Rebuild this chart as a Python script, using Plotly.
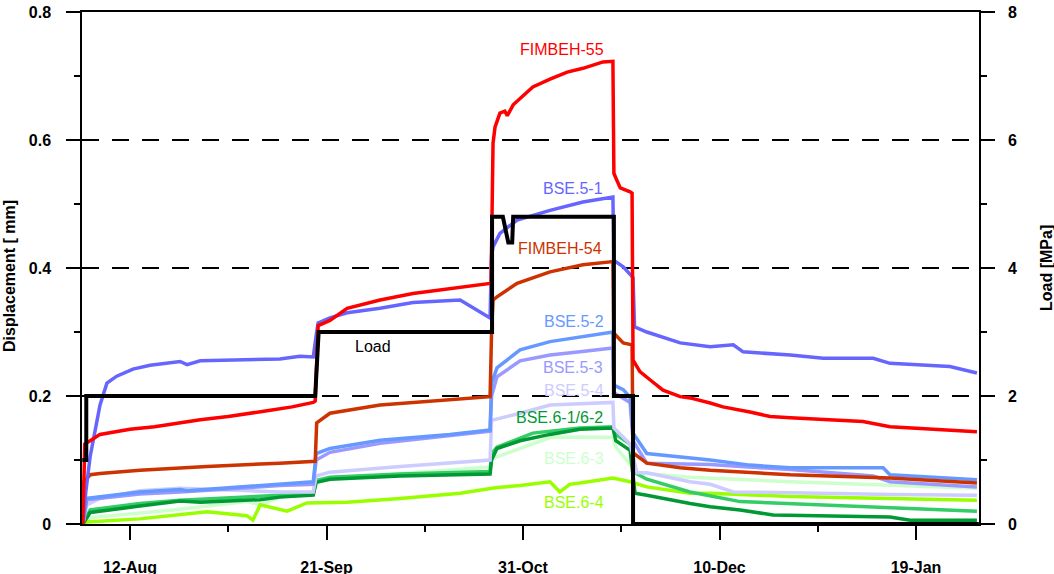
import pandas as pd
import plotly.graph_objects as go

# ---------------- data (days relative to 12-Aug) ----------------
START_DATE = "2007-08-12"

FIMBEH55_DAYS = [-9.6, -9.4, -9.2, -8.1, -6.1, 0.0, 5.0, 14.3, 20.0, 27.9, 33.0, 37.3, 37.7, 38.3, 40.7,
                 44.2, 50.9, 57.6, 65.1, 73.3, 73.5, 73.9, 74.3, 75.3, 76.3, 76.8, 78.0, 79.4, 82.0, 85.5,
                 89.0, 92.2, 96.3, 98.3, 98.5, 99.1, 99.8, 101.8, 102.2, 102.4, 103.8, 105.9, 108.5, 112.0,
                 114.0, 118.1, 120.7, 126.2, 130.3, 134.4, 141.1, 149.2, 154.7, 160.0, 166.9, 172.4]
FIMBEH55_MM = [0.0, 0.10, 0.125, 0.13, 0.14, 0.148, 0.152, 0.163, 0.168, 0.177, 0.183, 0.19, 0.192, 0.31, 0.318,
               0.337, 0.35, 0.36, 0.368, 0.376, 0.378, 0.595, 0.62, 0.642, 0.645, 0.638, 0.655, 0.665, 0.683, 0.695,
               0.706, 0.712, 0.722, 0.723, 0.548, 0.537, 0.525, 0.519, 0.517, 0.256, 0.238, 0.225, 0.209, 0.199,
               0.197, 0.189, 0.183, 0.175, 0.168, 0.166, 0.163, 0.16, 0.152, 0.15, 0.147, 0.144]

BSE51_DAYS = [-9.6, -9.0, -8.1, -6.1, -4.7, -2.7, 0.6, 4.1, 10.2, 11.6, 14.3, 21.0, 30.5, 34.6, 37.3,
              37.9, 38.3, 40.7, 44.2, 50.9, 57.6, 67.2, 73.3, 73.6, 73.9, 75.3, 78.8, 85.5, 92.2, 98.3,
              98.5, 100.4, 101.8, 102.4, 102.7, 105.2, 112.0, 118.1, 122.8, 124.8, 134.4, 141.1, 151.3,
              154.7, 166.9, 172.4]
BSE51_MM = [0.0, 0.05, 0.106, 0.186, 0.22, 0.231, 0.242, 0.248, 0.254, 0.249, 0.255, 0.256, 0.258, 0.262, 0.261,
            0.295, 0.314, 0.322, 0.33, 0.337, 0.346, 0.35, 0.322, 0.42, 0.433, 0.454, 0.475, 0.49, 0.503, 0.511,
            0.412, 0.402, 0.39, 0.385, 0.308, 0.30, 0.283, 0.277, 0.28, 0.269, 0.264, 0.259, 0.259,
            0.251, 0.246, 0.236]

FIMBEH54_DAYS = [-9.6, -9.4, -8.1, -6.1, 2.0, 15.7, 30.5, 37.3, 37.7, 38.0, 40.7, 50.9, 65.1, 73.3, 73.6,
                 73.9, 74.7, 78.8, 85.5, 92.2, 98.3, 98.5, 100.4, 102.2, 102.4, 105.2, 112.0, 118.1, 134.4,
                 154.7, 172.4]
FIMBEH54_MM = [0.0, 0.066, 0.077, 0.079, 0.084, 0.09, 0.095, 0.097, 0.098, 0.158, 0.173, 0.186, 0.195, 0.199, 0.30,
               0.35, 0.355, 0.376, 0.394, 0.405, 0.41, 0.298, 0.283, 0.28, 0.111, 0.095, 0.088, 0.084, 0.077,
               0.072, 0.064]

BSE52_DAYS = [-9.6, -8.8, 2.0, 10.2, 11.6, 30.5, 36.0, 37.3, 37.9, 40.7, 50.9, 65.1, 73.3, 73.6, 74.7,
              79.4, 85.5, 91.6, 98.3, 98.5, 100.4, 101.8, 102.4, 105.2, 118.1, 126.2, 134.4, 153.3, 154.7, 172.4]
BSE52_MM = [0.0, 0.04, 0.05, 0.054, 0.052, 0.062, 0.064, 0.066, 0.11, 0.118, 0.131, 0.14, 0.147, 0.22, 0.244,
            0.272, 0.285, 0.292, 0.30, 0.217, 0.21, 0.198, 0.142, 0.11, 0.10, 0.092, 0.088, 0.088, 0.077, 0.069]

BSE53_DAYS = [-9.6, -8.8, 2.0, 10.2, 30.5, 37.3, 37.9, 40.7, 50.9, 65.1, 73.3, 73.6, 74.7, 79.4, 85.5,
              91.6, 98.3, 98.5, 101.8, 102.4, 105.2, 118.1, 134.4, 151.3, 154.7, 172.4]
BSE53_MM = [0.0, 0.038, 0.047, 0.05, 0.06, 0.062, 0.10, 0.112, 0.126, 0.138, 0.145, 0.20, 0.23, 0.255, 0.264,
            0.269, 0.275, 0.205, 0.19, 0.13, 0.095, 0.093, 0.085, 0.075, 0.066, 0.058]

BSE54_DAYS = [-9.6, -8.8, -6.1, 2.0, 10.2, 14.3, 30.5, 37.3, 37.9, 40.7, 55.0, 73.3, 73.6, 79.4, 85.5,
              98.3, 98.5, 101.8, 103.2, 105.2, 114.0, 118.1, 122.8, 134.4, 154.7, 172.4]
BSE54_MM = [0.0, 0.03, 0.04, 0.052, 0.056, 0.055, 0.05, 0.05, 0.075, 0.081, 0.09, 0.10, 0.162, 0.173, 0.186,
            0.19, 0.15, 0.125, 0.08, 0.08, 0.066, 0.062, 0.05, 0.049, 0.046, 0.045]

BSE61_DAYS = [-9.6, -8.1, 2.0, 10.2, 14.3, 26.5, 30.5, 37.3, 37.9, 40.7, 55.0, 73.3, 73.6, 74.7, 79.4,
              85.5, 91.6, 98.3, 98.9, 101.8, 102.8, 105.2, 114.0, 118.1, 124.2, 130.9, 154.7, 158.8, 172.4]
BSE61_MM = [0.0, 0.018, 0.028, 0.036, 0.034, 0.038, 0.042, 0.045, 0.065, 0.07, 0.075, 0.078, 0.10, 0.118, 0.13,
            0.14, 0.148, 0.15, 0.13, 0.115, 0.048, 0.045, 0.032, 0.027, 0.022, 0.014, 0.011, 0.006, 0.006]

BSE62_DAYS = [-9.6, -8.1, 2.0, 10.2, 30.5, 37.3, 37.9, 40.7, 55.0, 73.3, 73.6, 74.7, 82.0, 91.6, 98.3,
              98.9, 101.8, 102.8, 105.2, 114.0, 124.2, 154.7, 172.4]
BSE62_MM = [0.0, 0.022, 0.032, 0.037, 0.045, 0.047, 0.068, 0.073, 0.078, 0.082, 0.11, 0.12, 0.142, 0.15, 0.152,
            0.14, 0.125, 0.08, 0.07, 0.05, 0.035, 0.025, 0.02]

BSE63_DAYS = [-9.6, -8.1, 8.8, 23.8, 26.5, 30.5, 37.3, 37.9, 40.7, 73.3, 73.6, 74.7, 85.5, 91.6, 98.3,
              98.9, 103.2, 114.0, 134.4, 172.4]
BSE63_MM = [0.0, 0.01, 0.022, 0.035, 0.03, 0.042, 0.048, 0.065, 0.07, 0.089, 0.10, 0.105, 0.135, 0.136, 0.135,
            0.12, 0.08, 0.073, 0.066, 0.056]

BSE64_DAYS = [-9.6, -8.8, 2.0, 15.7, 23.8, 25.0, 26.5, 32.0, 36.0, 44.2, 55.0, 67.2, 74.7, 79.4, 85.5,
              87.5, 89.5, 91.6, 98.3, 101.8, 105.2, 114.0, 118.1, 134.4, 172.4]
BSE64_MM = [0.0, 0.003, 0.008, 0.019, 0.013, 0.006, 0.03, 0.02, 0.033, 0.034, 0.04, 0.048, 0.057, 0.06, 0.066,
            0.05, 0.062, 0.064, 0.072, 0.066, 0.058, 0.048, 0.048, 0.043, 0.037]

LOAD_DAYS = [-9.7, -8.9, -8.9, 37.7, 38.4, 73.7, 73.7, 75.9, 77.0, 77.8, 78.0, 98.5, 98.5, 102.4, 102.4, 172.8]
LOAD_MPA = [1.0, 1.0, 2.0, 2.0, 3.0, 3.0, 4.8, 4.8, 4.4, 4.4, 4.8, 4.8, 2.0, 2.0, 0.0, 0.0]

# series labels: text, colour, label position (day, mm)
LABEL_TEXT = ["FIMBEH-55", "BSE.5-1", "FIMBEH-54", "BSE.5-2", "BSE.5-3", "BSE.5-4",
              "BSE.6-1/6-2", "BSE.6-3", "BSE.6-4", "Load"]
LABEL_DAY = [87.9, 90.2, 87.5, 90.4, 90.2, 90.4, 87.5, 90.4, 90.4, 49.5]
LABEL_MM = [0.741, 0.525, 0.431, 0.316, 0.244, 0.209, 0.166, 0.103, 0.034, 0.277]
LABEL_COLOR = ["#FF0000", "#6666FF", "#CC3300", "#6699FF", "#9999FF", "#CCCCFF",
               "#009933", "#CCFFCC", "#99FF00", "#000000"]

X_RANGE_DAYS = [-9.77, 172.82]
Y_RANGE = [0, 0.8]
Y2_RANGE = [0, 8]

# ---------------- figure ----------------
base = pd.Timestamp(START_DATE)


def to_dates(days):
    return base + pd.to_timedelta(days, unit="D")


series = [
    (BSE63_DAYS, BSE63_MM, "#CCFFCC", "BSE.6-3"),
    (BSE64_DAYS, BSE64_MM, "#99FF00", "BSE.6-4"),
    (BSE62_DAYS, BSE62_MM, "#33CC66", "BSE.6-2"),
    (BSE61_DAYS, BSE61_MM, "#009933", "BSE.6-1"),
    (BSE54_DAYS, BSE54_MM, "#CCCCFF", "BSE.5-4"),
    (BSE53_DAYS, BSE53_MM, "#9999FF", "BSE.5-3"),
    (BSE52_DAYS, BSE52_MM, "#6699FF", "BSE.5-2"),
    (FIMBEH54_DAYS, FIMBEH54_MM, "#CC3300", "FIMBEH-54"),
    (BSE51_DAYS, BSE51_MM, "#6666FF", "BSE.5-1"),
    (FIMBEH55_DAYS, FIMBEH55_MM, "#FF0000", "FIMBEH-55"),
]

fig = go.Figure()
for d, v, c, n in series:
    fig.add_trace(go.Scatter(x=to_dates(d), y=v, mode="lines", name=n,
                             line=dict(color=c, width=3.5), yaxis="y"))
fig.add_trace(go.Scatter(x=to_dates(LOAD_DAYS), y=LOAD_MPA, mode="lines", name="Load",
                         line=dict(color="#000000", width=4), yaxis="y2"))

FONT = "Liberation Sans, Arial, sans-serif"

for t, dx, my, c in zip(LABEL_TEXT, LABEL_DAY, LABEL_MM, LABEL_COLOR):
    fig.add_annotation(x=to_dates([dx])[0], y=my, xref="x", yref="y", text=t, showarrow=False,
                       font=dict(family=FONT, size=16, color=c), xanchor="center", yanchor="middle")

L, R, T, B = 82, 75, 12, 50
W, H = 1054, 574
pw = W - L - R
ph = H - T - B

fig.add_annotation(x=(9 - L) / pw, y=(H - B - 276) / ph, xref="paper", yref="paper",
                   text="Displacement [ mm]", textangle=-90, showarrow=False,
                   font=dict(family=FONT, size=16, color="black", weight="bold"),
                   xanchor="center", yanchor="middle")
fig.add_annotation(x=(1046 - L) / pw, y=(H - B - 268) / ph, xref="paper", yref="paper",
                   text="Load [MPa]", textangle=-90, showarrow=False,
                   font=dict(family=FONT, size=16, color="black", weight="bold"),
                   xanchor="center", yanchor="middle")

tickfont = dict(family=FONT, size=16, color="black", weight="bold")

fig.update_layout(
    width=W, height=H,
    margin=dict(l=L, r=R, t=T, b=B, pad=0, autoexpand=False),
    paper_bgcolor="white", plot_bgcolor="white",
    showlegend=False,
    xaxis=dict(
        type="date", automargin=False,
        range=[to_dates([X_RANGE_DAYS[0]])[0], to_dates([X_RANGE_DAYS[1]])[0]],
        tick0=START_DATE, dtick=40 * 86400000, tickformat="%d-%b",
        ticks="outside", ticklen=14, tickwidth=1.5, tickcolor="black",
        minor=dict(tick0=START_DATE, dtick=20 * 86400000, ticks="outside", ticklen=6,
                   tickwidth=1.5, tickcolor="black"),
        showgrid=False, zeroline=False,
        showline=True, linecolor="black", linewidth=1.5, mirror=True,
        tickfont=tickfont, ticklabelstandoff=14,
    ),
    yaxis=dict(
        automargin=False,
        range=Y_RANGE, dtick=0.2, tick0=0,
        ticks="outside", ticklen=14, tickwidth=1.5, tickcolor="black",
        minor=dict(dtick=0.1, ticks="outside", ticklen=6, tickwidth=1.5, tickcolor="black"),
        showgrid=True, gridcolor="black", gridwidth=1.5, griddash="17px,13px",
        zeroline=False, showline=True, linecolor="black", linewidth=1.5,
        tickfont=tickfont, ticklabelstandoff=12,
    ),
    yaxis2=dict(
        automargin=False,
        range=Y2_RANGE, dtick=2, tick0=0, overlaying="y", side="right",
        ticks="outside", ticklen=14, tickwidth=1.5, tickcolor="black",
        minor=dict(dtick=1, ticks="outside", ticklen=6, tickwidth=1.5, tickcolor="black"),
        showgrid=False, zeroline=False, showline=True, linecolor="black", linewidth=1.5,
        tickfont=tickfont, ticklabelstandoff=10,
    ),
)

fig.write_html("out.html")
